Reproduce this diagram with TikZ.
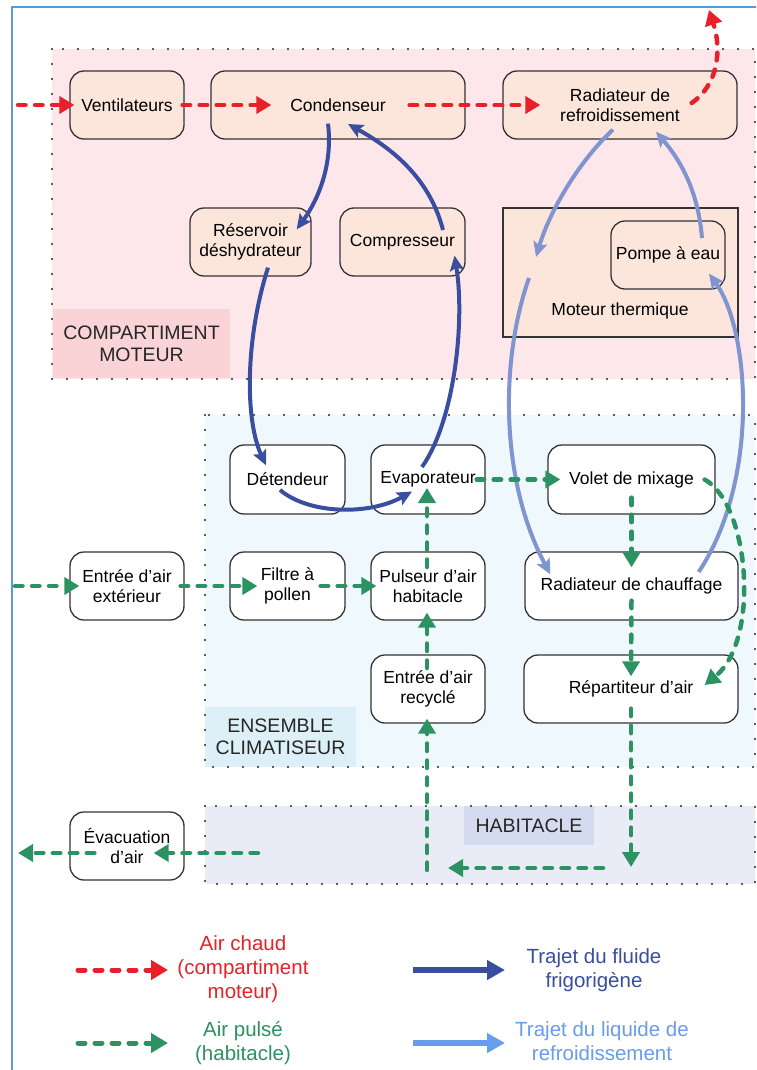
\documentclass[tikz,border=0pt]{standalone}
\usepackage{fontspec}
\setmainfont{Liberation Sans}
\usetikzlibrary{arrows.meta,calc}

\definecolor{cred}{RGB}{232,32,42}
\definecolor{cgreen}{RGB}{44,146,98}
\definecolor{cdblue}{RGB}{58,78,160}
\definecolor{clblue}{RGB}{128,148,208}
\definecolor{clegblue}{RGB}{104,156,236}
\definecolor{cframe}{RGB}{91,155,213}
\definecolor{cpink}{RGB}{253,231,234}
\definecolor{cpinklab}{RGB}{249,211,214}
\definecolor{cpeach}{RGB}{252,230,220}
\definecolor{ccyan}{RGB}{239,248,252}
\definecolor{ccyanlab}{RGB}{221,240,247}
\definecolor{chab}{RGB}{233,236,246}
\definecolor{chablab}{RGB}{213,219,238}

\begin{document}
\begin{tikzpicture}[x=1pt,y=-1pt,
  box/.style={draw=black!80, line width=1.3pt, rounded corners=14pt, align=center,
    font=\fontsize{17.5}{20}\selectfont, minimum height=68pt, inner sep=2pt},
  pbox/.style={box, fill=cpeach},
  wbox/.style={box, fill=white},
  dotline/.style={draw=black!85, line width=2.4pt, line cap=round, dash pattern=on 0pt off 15pt},
  reglabel/.style={font=\fontsize{19.5}{22}\selectfont, align=center, text=black!85, inner sep=0pt},
  redarr/.style={cred, line width=4.5pt, line cap=round, dash pattern=on 7.5pt off 9.5pt,
    -{Triangle[length=15pt,width=17pt]}},
  grnarr/.style={cgreen, line width=4.5pt, line cap=round, dash pattern=on 7.5pt off 9.5pt,
    -{Triangle[length=15pt,width=17pt]}},
  fluarr/.style={cdblue, line width=4pt, -{Stealth[length=15pt,width=14pt,inset=3pt]}},
  liqarr/.style={clblue, line width=4pt, -{Stealth[length=15pt,width=14pt,inset=3pt]}},
  legtext/.style={font=\fontsize{20.5}{24}\selectfont, align=center, inner sep=0pt}
]
\useasboundingbox (0,0) rectangle (756,1070);
\clip (0,0) rectangle (756,1070);
\fill[white] (0,0) rectangle (756,1070);

% frame
\draw[cframe, line width=2pt] (12,1080) -- (12,7) -- (770,7);

% regions
\fill[cpink] (52,49) rectangle (755,379);
\node[fill=cpinklab, minimum width=177pt, minimum height=69pt, inner sep=0pt] (cmbox) at (141.5,343) {};
\node[reglabel] (cmlab) at (141.5,344) {COMPARTIMENT\\MOTEUR};
\draw[dotline] (52,49) rectangle (755,379);

\fill[ccyan] (205,415) rectangle (755,767);
\node[fill=ccyanlab, minimum width=151pt, minimum height=60pt, inner sep=0pt] (ecbox) at (280.5,737) {};
\node[reglabel] (eclab) at (280.5,737) {ENSEMBLE\\CLIMATISEUR};
\draw[dotline] (205,415) rectangle (755,767);

\fill[chab] (205,806) rectangle (755,884);
\node[fill=chablab, minimum width=130pt, minimum height=39pt, inner sep=0pt] (hbbox) at (529,825.5) {};
\node[reglabel] (hblab) at (529,826) {HABITACLE};
\draw[dotline] (205,806) rectangle (755,884);

% engine compartment nodes
\node[pbox, minimum width=114pt] (vent) at (127,105) {Ventilateurs};
\node[pbox, minimum width=254pt] (cond) at (338,105) {Condenseur};
\node[pbox, minimum width=234pt] (radr) at (620,105) {Radiateur de\\refroidissement};
\node[pbox, minimum width=121pt] (resv) at (250.5,242) {Réservoir\\déshydrateur};
\node[pbox, minimum width=125pt] (comp) at (402.5,242) {Compresseur};
\node[draw=black!80, line width=1.2pt, fill=cpeach, minimum width=235pt, minimum height=129pt, inner sep=0pt] (mot) at (620.5,272.5) {};
\node[font=\fontsize{17.5}{20}\selectfont, inner sep=0pt] (motlab) at (620,311) {Moteur thermique};
\node[pbox, minimum width=114pt] (pompe) at (668,255) {Pompe à eau};

% climatiseur nodes
\node[wbox, minimum width=115pt, minimum height=69pt] (det) at (287.5,479.5) {Détendeur};
\node[wbox, minimum width=114pt, minimum height=69pt] (evap) at (428,479.5) {Evaporateur};
\node[wbox, minimum width=167pt, minimum height=69pt] (volet) at (631.5,479.5) {Volet de mixage};
\node[wbox, minimum width=114pt] (entext) at (127,586) {Entrée d'air\\extérieur};
\node[wbox, minimum width=115pt] (filtre) at (287.5,586) {Filtre à\\pollen};
\node[wbox, minimum width=114pt] (puls) at (428,586) {Pulseur d'air\\habitacle};
\node[wbox, minimum width=213pt] (radch) at (631.5,586) {Radiateur de chauffage};
\node[wbox, minimum width=114pt] (entrec) at (428,689) {Entrée d'air\\recyclé};
\node[wbox, minimum width=214pt] (repart) at (631,689) {Répartiteur d'air};
\node[wbox, minimum width=114pt] (evac) at (127,846) {Évacuation\\d'air};

% free ends
\coordinate (redin) at (18,105);
\coordinate (redout) at (709,10);
\coordinate (gin) at (15,586);
\coordinate (gret) at (427,870);
\coordinate (ghabA) at (603,868);
\coordinate (ghabB) at (448,868);
\coordinate (gdown) at (631,867);
\coordinate (gev) at (258,853);
\coordinate (gout) at (18,853);
\coordinate (lb1) at (536,257);
\coordinate (lb2) at (529,278);

% hot air (red)
\draw[redarr] (redin) -- ($(vent.west)+(5,0)$);
\draw[redarr] ($(vent.east)+(-2,0)$) -- ($(cond.west)+(61,0)$);
\draw[redarr] ($(cond.east)+(-56,0)$) -- ($(radr.west)+(38,0)$);
\draw[redarr] ($(radr.east)+(-46,-2)$) .. controls (718,85) and (722,50) .. (redout);

% cooling liquid (light blue)
\draw[liqarr] ($(radr.south)+(-7,-10)$) .. controls (580,160) and (550,210) .. (lb1);
\draw[liqarr] (lb2) .. controls (500,360) and (500,480) .. ($(radch.north west)+(26,23)$);
\draw[liqarr] ($(radch.east)+(-40,-14)$) .. controls (760,480) and (750,330) .. ($(pompe.south)+(41,-16)$);
\draw[liqarr] ($(pompe.center)+(34,-17)$) .. controls (698,190) and (680,160) .. ($(radr.south)+(36,-8)$);

% refrigerant (dark blue)
\draw[fluarr] ($(cond.south)+(-10,-16)$) .. controls (333,165) and (318,200) .. ($(resv.north east)+(-15,22)$);
\draw[fluarr] ($(resv.south)+(17.5,-9)$) .. controls (245,340) and (245,420) .. ($(det.north)+(-21.5,21)$);
\draw[fluarr] ($(det.center)+(-7.5,10.5)$) .. controls (310,515) and (370,515) .. ($(evap.center)+(-16,12)$);
\draw[fluarr] ($(evap.center)+(-6,-12.5)$) .. controls (455,420) and (465,320) .. ($(comp.south)+(52,-21)$);
\draw[fluarr] ($(comp.center)+(40.5,-12)$) .. controls (430,180) and (395,150) .. ($(cond.center)+(10,19)$);

% blown air (green)
\draw[grnarr] (gin) -- ($(entext.west)+(10,0)$);
\draw[grnarr] ($(entext.east)+(-4,0)$) -- ($(filtre.west)+(28,0)$);
\draw[grnarr] ($(filtre.east)+(-25,0)$) -- ($(puls.west)+(6,0)$);
\draw[grnarr] ($(puls.center)+(-1,-19)$) -- ($(evap.center)+(-1,8.5)$);
\draw[grnarr] ($(entrec.center)+(-1,-21)$) -- ($(puls.south)+(-1,-8)$);
\draw[grnarr] (gret) -- ($(entrec.south)+(-1,-5)$);
\draw[grnarr] (ghabA) -- (ghabB);
\draw[grnarr] ($(repart.south)+(0,-15)$) -- (gdown);
\draw[grnarr] ($(evap.east)+(-9,0)$) -- ($(volet.west)+(13,0)$);
\draw[grnarr] ($(volet.south)+(0,-17)$) -- ($(radch.north)+(0,16)$);
\draw[grnarr] ($(radch.south)+(0,-20)$) -- ($(repart.north)+(0,22)$);
\draw[grnarr] ($(volet.east)+(-11,0)$) .. controls (750,505) and (760,640) .. ($(repart.east)+(-34,-4)$);
\draw[grnarr] (gev) -- ($(evac.east)+(-31,7)$);
\draw[grnarr] ($(evac.west)+(25,7)$) -- (gout);

% legend
\coordinate (lr1) at (78,970);   \coordinate (lr2) at (168,970);
\coordinate (lg1) at (78,1043);  \coordinate (lg2) at (168,1043);
\coordinate (lb3) at (413,970);  \coordinate (lb4) at (505,970);
\coordinate (lb5) at (413,1043); \coordinate (lb6) at (505,1043);
\draw[cred, line width=5pt, line cap=round, dash pattern=on 7pt off 10pt, -{Triangle[length=17pt,width=19pt]}] (lr1) -- (lr2);
\draw[cgreen, line width=5pt, line cap=round, dash pattern=on 7pt off 10pt, -{Triangle[length=17pt,width=19pt]}] (lg1) -- (lg2);
\draw[cdblue, line width=6pt, -{Triangle[length=18pt,width=19pt]}] (lb3) -- (lb4);
\draw[clegblue, line width=6pt, -{Triangle[length=18pt,width=19pt]}] (lb5) -- (lb6);
\node[legtext, text=cred] (legred) at (243,969) {Air chaud\\(compartiment\\moteur)};
\node[legtext, text=cgreen] (leggrn) at (243,1043) {Air pulsé\\(habitacle)};
\node[legtext, text=cdblue] (legflu) at (594,970) {Trajet du fluide\\frigorigène};
\node[legtext, text=clegblue] (legliq) at (602,1041.5) {Trajet du liquide de\\refroidissement};
\end{tikzpicture}
\end{document}
